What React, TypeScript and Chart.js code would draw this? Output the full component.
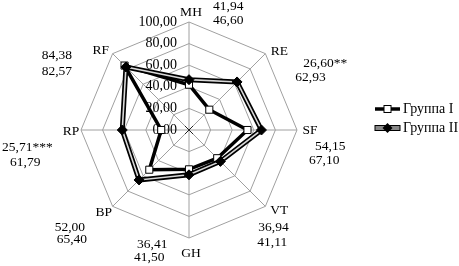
import { useEffect, useRef } from "react";
import { Chart, registerables } from "chart.js";

Chart.register(...registerables);

// Scale axes (SF-36 domains) and mean scores of the two groups
const axes = ["MH", "RE", "SF", "VT", "GH", "BP", "RP", "RF"];
const group1 = [41.94, 26.6, 54.15, 36.94, 36.41, 52.0, 25.71, 84.38];
const group2 = [46.6, 62.93, 67.1, 41.11, 41.5, 65.4, 61.79, 82.57];
const group1Marks = ["", "**", "", "", "", "", "***", ""];
const seriesNames = ["Группа I", "Группа II"];
const scaleTicks = [0, 20, 40, 60, 80, 100];

const FONT = '"Liberation Serif", "Times New Roman", serif';
const fmt = (v: number) => v.toFixed(2).replace(".", ",");

// Axis label placement around each vertex (centre of text, relative to the vertex)
const labelOffsets: [number, number][] = [
  [2, -10], [14, -2], [13, 0], [14, 4], [2, 15], [-9, 6], [-10, 1], [-12, -3],
];
// Score annotation placement: [left, middle] for first and second line, relative to the vertex
const noteOffsets: [number, number, number, number][] = [
  [24, -16, 24, -2],
  [38, 10, 30, 24],
  [18, 16, 12, 30],
  [-7, 21, -8, 36],
  [-52, 6, -55, 19],
  [-58, 21, -56, 33],
  [-79, 17, -71, 32],
  [-71, 2, -71, 18],
];

const radarDecor = {
  id: "radarDecor",
  beforeDatasetsDraw(chart: any) {
    const scale = chart.scales.r;
    const ctx = chart.ctx;
    ctx.save();
    // small cross at the centre
    ctx.strokeStyle = "#222";
    ctx.lineWidth = 1;
    ctx.beginPath();
    const cx = scale.xCenter, cy = scale.yCenter;
    ctx.moveTo(cx - 4, cy - 4); ctx.lineTo(cx + 4, cy + 4);
    ctx.moveTo(cx + 4, cy - 4); ctx.lineTo(cx - 4, cy + 4);
    ctx.stroke();
    // value ticks to the left of the vertical axis
    ctx.fillStyle = "#000";
    ctx.font = `14px ${FONT}`;
    ctx.textAlign = "right";
    ctx.textBaseline = "middle";
    scaleTicks.forEach((v) => {
      const d = scale.getDistanceFromCenterForValue(v);
      ctx.fillText(fmt(v), cx - 12, cy - d);
    });
    ctx.restore();
  },
  afterDraw(chart: any) {
    const scale = chart.scales.r;
    const ctx = chart.ctx;
    ctx.save();
    ctx.fillStyle = "#000";
    ctx.font = `13.5px ${FONT}`;
    ctx.textBaseline = "middle";
    axes.forEach((name, i) => {
      const tip = scale.getPointPosition(i, scale.drawingArea);
      const [lx, ly] = labelOffsets[i];
      ctx.textAlign = "center";
      ctx.fillText(name, tip.x + lx, tip.y + ly);
      const [ax, ay, bx, by] = noteOffsets[i];
      ctx.textAlign = "left";
      ctx.fillText(fmt(group1[i]) + group1Marks[i], tip.x + ax, tip.y + ay);
      ctx.fillText(fmt(group2[i]), tip.x + bx, tip.y + by);
    });

    // legend
    const lx0 = 375, lx1 = 400, tx = 403;
    const y1 = 109, y2 = 128;
    ctx.strokeStyle = "#000";
    ctx.lineWidth = 3.5;
    ctx.beginPath();
    ctx.moveTo(lx0, y1); ctx.lineTo(lx1, y1);
    ctx.stroke();
    ctx.fillStyle = "#fff";
    ctx.lineWidth = 1;
    const mx = (lx0 + lx1) / 2;
    ctx.fillRect(mx - 3.5, y1 - 3.5, 7, 7);
    ctx.strokeRect(mx - 3.5, y1 - 3.5, 7, 7);

    ctx.fillStyle = "#888";
    ctx.fillRect(lx0, y2 - 2.5, lx1 - lx0, 5);
    ctx.strokeRect(lx0, y2 - 2.5, lx1 - lx0, 5);
    ctx.fillStyle = "#000";
    ctx.beginPath();
    ctx.moveTo(mx, y2 - 5); ctx.lineTo(mx + 5, y2); ctx.lineTo(mx, y2 + 5); ctx.lineTo(mx - 5, y2);
    ctx.closePath();
    ctx.fill();

    ctx.fillStyle = "#000";
    ctx.font = `14px ${FONT}`;
    ctx.textAlign = "left";
    ctx.fillText(seriesNames[0], tx, y1);
    ctx.fillText(seriesNames[1], tx, y2);
    ctx.restore();
  },
};

export default function App() {
  const ref = useRef<HTMLCanvasElement | null>(null);

  useEffect(() => {
    if (!ref.current) return;
    const chart = new Chart(ref.current, {
      type: "radar",
      data: {
        labels: axes,
        datasets: [
          {
            label: seriesNames[0],
            data: group1,
            borderColor: "#000",
            borderWidth: 3.5,
            fill: false,
            pointStyle: "rect",
            pointRadius: 5,
            pointBackgroundColor: "#fff",
            pointBorderColor: "#000",
            pointBorderWidth: 1,
            order: 3,
          },
          {
            label: seriesNames[1],
            data: group2,
            borderColor: "#000",
            borderWidth: 5,
            fill: false,
            pointRadius: 0,
            order: 2,
          },
          {
            label: seriesNames[1],
            data: group2,
            borderColor: "#d8d8d8",
            borderWidth: 1.6,
            fill: false,
            pointStyle: "rectRot",
            pointRadius: 5,
            pointBackgroundColor: "#000",
            pointBorderColor: "#000",
            pointBorderWidth: 1,
            order: 1,
          },
        ],
      },
      options: {
        responsive: false,
        maintainAspectRatio: false,
        animation: false,
        devicePixelRatio: 1,
        layout: { padding: { left: 81, right: 162, top: 22, bottom: 28 } },
        elements: { line: { tension: 0 } },
        plugins: {
          legend: { display: false },
          tooltip: { enabled: false },
        },
        scales: {
          r: {
            min: 0,
            max: 100,
            ticks: { display: false, stepSize: 20 },
            pointLabels: { display: false },
            grid: { color: "#a0a0a0", lineWidth: 1 },
            angleLines: { color: "#a0a0a0", lineWidth: 1 },
          },
        },
      },
      plugins: [radarDecor],
    });
    return () => chart.destroy();
  }, []);

  return (
    <div style={{ position: "fixed", left: 0, top: 0, width: 459, height: 266, background: "#fff" }}>
      <canvas ref={ref} width={459} height={266} style={{ width: 459, height: 266, display: "block" }} />
    </div>
  );
}
